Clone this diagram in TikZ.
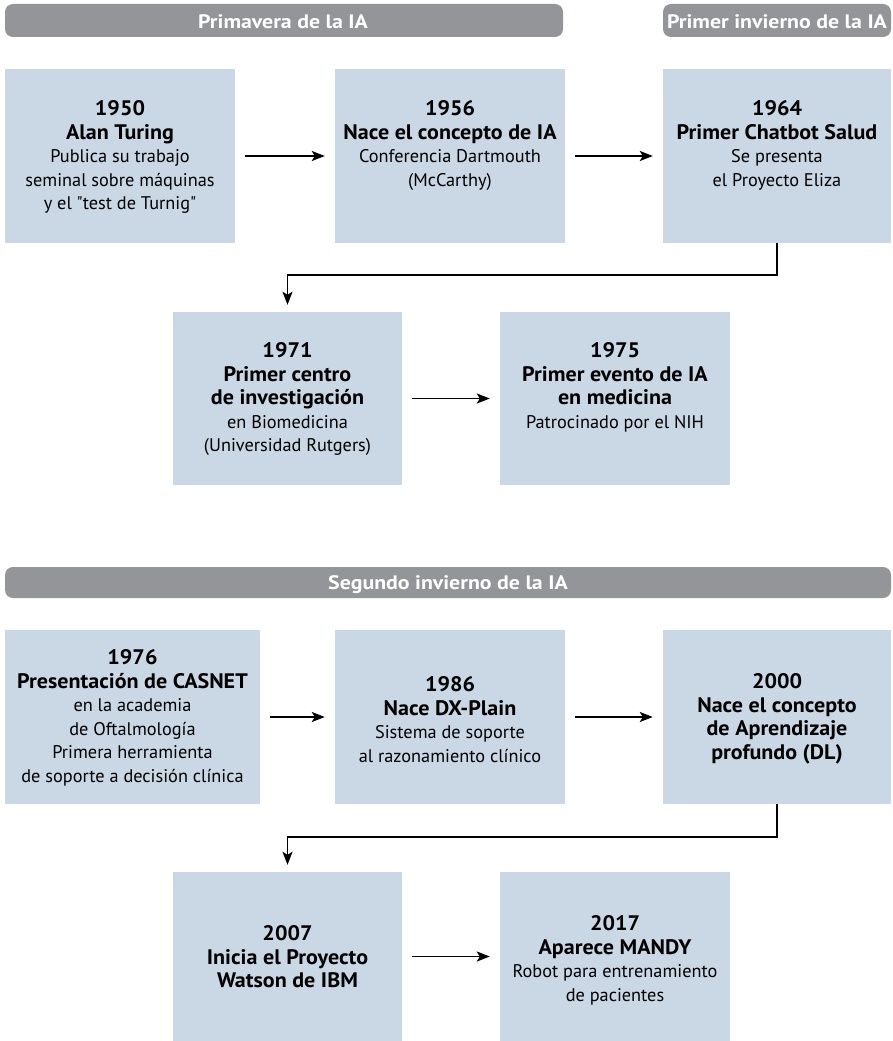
\documentclass[tikz,border=0pt]{standalone}
\usepackage{fontspec}
\setmainfont{PT Sans}[Ligatures=TeXOff, BoldFeatures={FakeStretch=1.05}]
\newfontfamily\bannerfont{PT Sans}[BoldFeatures={FakeStretch=1.12}]
\usetikzlibrary{arrows.meta}
\definecolor{boxblue}{HTML}{CAD8E5}
\definecolor{bannergray}{HTML}{939598}
\newcommand\evtitle[1]{{\fontsize{21}{23.5}\selectfont\bfseries #1}}
\begin{document}
\begin{tikzpicture}[x=1pt,y=-1pt,
  evbox/.style={fill=boxblue, draw=none, inner sep=0pt},
  evtext/.style={align=center, inner sep=0pt, anchor=north, font=\fontsize{18.3}{23.5}\selectfont},
  banner/.style={fill=bannergray, draw=none, rounded corners=8pt},
  bannertext/.style={text=white, inner sep=0pt, anchor=base, font=\bannerfont\bfseries\fontsize{19.5}{22}\selectfont},
  link/.style={-{Stealth[length=13pt,width=10pt,inset=3pt]}, line width=1.9pt, shorten <=10pt, shorten >=10pt},
  turn/.style={-{Stealth[length=13pt,width=10pt,inset=3pt]}, line width=1.9pt, shorten >=7pt}]
\useasboundingbox (0,0) rectangle (892,1041);

% banners
\fill[banner] (5,4) rectangle (563,37);
\node[bannertext] (ban1) at (283,28.5) {Primavera de la IA};
\fill[banner] (663,4) rectangle (891,37);
\node[bannertext] (ban2) at (777,28.5) {Primer invierno de la IA};
\fill[banner] (5,567) rectangle (891,598);
\node[bannertext] (ban3) at (448,589.5) {Segundo invierno de la IA};

% row 1
\node[evbox, minimum width=230pt, minimum height=174pt] (b1950) at (120,156) {};
\node[evbox, minimum width=230pt, minimum height=174pt] (b1956) at (450,156) {};
\node[evbox, minimum width=228pt, minimum height=174pt] (b1964) at (777,156) {};
\node[evtext] (t1950) at (120,100.5) {\evtitle{1950}\\\evtitle{Alan Turing}\\Publica su trabajo\\seminal sobre máquinas\\y el "test de Turnig"};
\node[evtext] (t1956) at (450,100.5) {\evtitle{1956}\\\evtitle{Nace el concepto de IA}\\Conferencia Dartmouth\\(McCarthy)};
\node[evtext] (t1964) at (777,100.5) {\evtitle{1964}\\\evtitle{Primer Chatbot Salud}\\Se presenta\\el Proyecto Eliza};

% row 2
\node[evbox, minimum width=229pt, minimum height=173pt] (b1971) at (287.5,398.5) {};
\node[evbox, minimum width=230pt, minimum height=173pt] (b1975) at (615,398.5) {};
\node[evtext] (t1971) at (287.5,342.5) {\evtitle{1971}\\\evtitle{Primer centro}\\\evtitle{de investigación}\\en Biomedicina\\(Universidad Rutgers)};
\node[evtext] (t1975) at (615,342.5) {\evtitle{1975}\\\evtitle{Primer evento de IA}\\\evtitle{en medicina}\\Patrocinado por el NIH};

% row 3
\node[evbox, minimum width=255pt, minimum height=174pt] (b1976) at (132.5,717) {};
\node[evbox, minimum width=230pt, minimum height=174pt] (b1986) at (450,717) {};
\node[evbox, minimum width=228pt, minimum height=174pt] (b2000) at (777,717) {};
\node[evtext] (t1976) at (132.5,649.5) {\evtitle{1976}\\\evtitle{Presentación de CASNET}\\en la academia\\de Oftalmología\\Primera herramienta\\de soporte a decisión clínica};
\node[evtext] (t1986) at (450,676.5) {\evtitle{1986}\\\evtitle{Nace DX-Plain}\\Sistema de soporte\\al razonamiento clínico};
\node[evtext] (t2000) at (777,673.5) {\evtitle{2000}\\\evtitle{Nace el concepto}\\\evtitle{de Aprendizaje}\\\evtitle{profundo (DL)}};

% row 4
\node[evbox, minimum width=229pt, minimum height=169pt] (b2007) at (287.5,956.5) {};
\node[evbox, minimum width=230pt, minimum height=169pt] (b2017) at (615,956.5) {};
\node[evtext] (t2007) at (287.5,925.5) {\evtitle{2007}\\\evtitle{Inicia el Proyecto}\\\evtitle{Watson de IBM}};
\node[evtext] (t2017) at (615,915.5) {\evtitle{2017}\\\evtitle{Aparece MANDY}\\Robot para entrenamiento\\de pacientes};

% connectors
\draw[link] (b1950) -- (b1956);
\draw[link] (b1956) -- (b1964);
\draw[turn] (b1964.south) -- ++(0,32) -| (b1971.north);
\draw[link] (b1971) -- (b1975);
\draw[link] (b1976) -- (b1986);
\draw[link] (b1986) -- (b2000);
\draw[turn] (b2000.south) -- ++(0,33) -| (b2007.north);
\draw[link] (b2007) -- (b2017);
\end{tikzpicture}
\end{document}
